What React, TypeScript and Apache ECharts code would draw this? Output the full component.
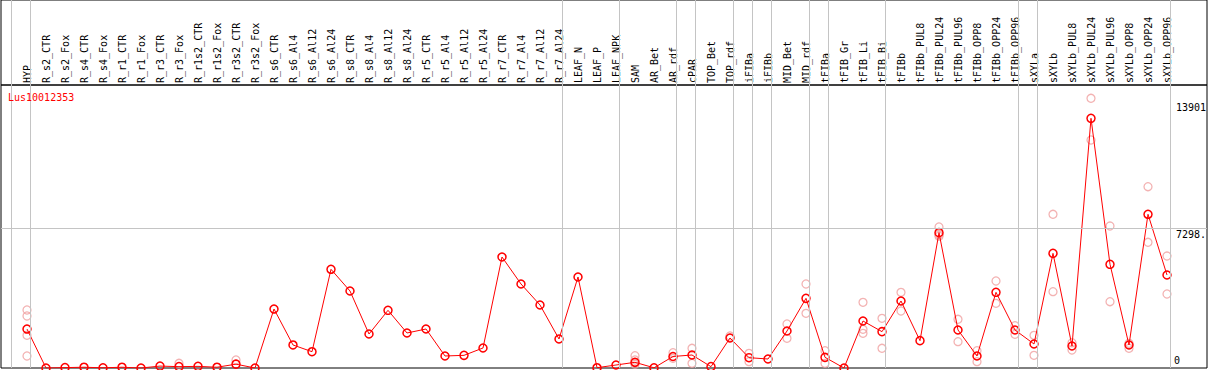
import React, { useEffect, useRef } from "react";
import * as echarts from "echarts";

const categories = [
  "HYP", "R_s2_CTR", "R_s2_Fox", "R_s4_CTR", "R_s4_Fox", "R_r1_CTR", "R_r1_Fox", "R_r3_CTR", "R_r3_Fox",
  "R_r1s2_CTR", "R_r1s2_Fox", "R_r3s2_CTR", "R_r3s2_Fox", "R_s6_CTR", "R_s6_Al4", "R_s6_Al12", "R_s6_Al24",
  "R_s8_CTR", "R_s8_Al4", "R_s8_Al12", "R_s8_Al24", "R_r5_CTR", "R_r5_Al4", "R_r5_Al12", "R_r5_Al24",
  "R_r7_CTR", "R_r7_Al4", "R_r7_Al12", "R_r7_Al24", "LEAF_N", "LEAF_P", "LEAF_NPK", "SAM", "AR_Bet", "AR_rdf",
  "cPAR", "TOP_Bet", "TOP_rdf", "iFIBa", "iFIBb", "MID_Bet", "MID_rdf", "tFIBa", "tFIB_Gr", "tFIB_Li", "tFIB_Bi",
  "tFIBb", "tFIBb_PUL8", "tFIBb_PUL24", "tFIBb_PUL96", "tFIBb_OPP8", "tFIBb_OPP24", "tFIBb_OPP96",
  "sXYLa", "sXYLb", "sXYLb_PUL8", "sXYLb_PUL24", "sXYLb_PUL96", "sXYLb_OPP8", "sXYLb_OPP24", "sXYLb_OPP96",
];

const means = [
  2030, 0, 20, 40, 10, 40, 0, 100, 70,
  85, 40, 200, 0, 3075, 1200, 850, 5145,
  4014, 1772, 3007, 1825, 2033, 626, 660, 1043,
  5786, 4379, 3284, 1512, 4744, 16, 156, 297, 10, 600,
  678, 70, 1564, 538, 469, 1929, 3632, 556, 0, 2450, 1894,
  3493, 1425, 7055, 1981, 626, 3945, 1981,
  1251, 5977, 1147, 13016, 5405, 1199, 8013, 4848,
];

const replicates: number[][] = [
  [3024, 2711, 1705, 626], [], [], [], [], [], [], [], [245],
  [], [], [417], [], [], [], [], [],
  [], [], [], [], [], [], [], [],
  [], [], [], [], [], [], [], [641, 417, 193], [], [798, 505],
  [1026, 245], [], [1668], [765, 330], [], [2294, 1546], [4379, 2850], [903, 243], [], [3423, 2016, 1807], [2589, 1026],
  [3945, 2971], [], [7350, 6870, 6950], [2539, 1373], [903, 330], [4535, 3371], [2207, 1755],
  [1703, 660], [8013, 3979], [1320, 938], [14059, 11886], [7402, 3456], [1286, 1026], [9451, 6553], [5838, 3858],
];

const groupEnds = [
  "HYP", "R_r7_Al24", "LEAF_NPK", "AR_rdf", "cPAR", "TOP_rdf", "iFIBa", "iFIBb",
  "MID_rdf", "tFIBa", "tFIB_Bi", "tFIBb_OPP96", "sXYLa", "sXYLb_OPP96",
];

const geneLabel = "Lus10012353";
const yTickValues = [0, 7298, 13901];
const yTickLabels = ["0", "7298.", "13901"];
const yMax = 14753;

const FONT = "DejaVu Sans Mono";

export default function App() {
  const ref = useRef<HTMLDivElement>(null);

  useEffect(() => {
    document.body.style.margin = "0";
    const chart = echarts.init(ref.current!, null, { renderer: "svg" });

    const step = 19;
    const xMin = -26 / step;
    const xMax = categories.length - 1 + 40 / step;
    const sepOffset = 3.5 / step;
    const separators = [-16 / step, ...groupEnds.map((n) => categories.indexOf(n) + sepOffset)];

    const repData: number[][] = [];
    replicates.forEach((arr, i) => arr.forEach((v) => repData.push([i, v])));

    const sepLines = separators.map((x) => ({ xAxis: x }));
    const sepStyle = { color: "#c4c4c4", width: 1, type: "solid" as const };

    const yMarkData = yTickValues.map((v, k) => ({
      yAxis: v,
      lineStyle: v === 7298 ? { ...sepStyle } : { color: "rgba(0,0,0,0)", width: 1, type: "solid" as const },
      label: {
        show: true,
        formatter: yTickLabels[k],
        position: v === 0 ? "insideEndTop" : "insideEndBottom",
        distance: v === 0 ? 3 : 1,
        padding: [0, (5 - yTickLabels[k].length) * 6, 0, 0],
        color: "#000",
        fontFamily: FONT,
        fontSize: 10,
      },
    }));

    chart.setOption({
      animation: false,
      backgroundColor: "#fff",
      title: {
        text: geneLabel,
        left: 8,
        top: 92,
        padding: 0,
        textStyle: { color: "#ff0000", fontFamily: FONT, fontSize: 10, fontWeight: "normal" },
      },
      grid: [
        { left: 1, right: 2, top: 85, bottom: 2, show: true, borderColor: "#000", borderWidth: 1, containLabel: false },
        { left: 1, right: 2, top: 0, height: 85, show: true, borderColor: "#000", borderWidth: 1, containLabel: false },
      ],
      xAxis: [
        {
          gridIndex: 0,
          type: "value",
          position: "top",
          min: xMin,
          max: xMax,
          axisLine: { show: false },
          axisTick: { show: false },
          splitLine: { show: false },
          axisLabel: {
            show: true,
            customValues: categories.map((_, i) => i),
            formatter: (v: number) => categories[Math.round(v)] ?? "",
            rotate: 90,
            margin: 2,
            padding: [0, 0, 4, 0],
            color: "#000",
            fontFamily: FONT,
            fontSize: 10,
            showMinLabel: true,
            showMaxLabel: true,
          },
        },
        {
          gridIndex: 1,
          type: "value",
          min: xMin,
          max: xMax,
          show: false,
        },
      ],
      yAxis: [
        { gridIndex: 0, type: "value", min: 0, max: yMax, show: false, splitLine: { show: false } },
        { gridIndex: 1, type: "value", min: 0, max: 1, show: false, splitLine: { show: false } },
      ],
      series: [
        {
          type: "line",
          xAxisIndex: 0,
          yAxisIndex: 0,
          data: [],
          silent: true,
          markLine: {
            silent: true,
            symbol: ["none", "none"],
            label: { show: false },
            lineStyle: sepStyle,
            data: [...sepLines, ...yMarkData],
          },
          z: 1,
        },
        {
          type: "line",
          xAxisIndex: 1,
          yAxisIndex: 1,
          data: [],
          silent: true,
          markLine: {
            silent: true,
            symbol: ["none", "none"],
            label: { show: false },
            lineStyle: sepStyle,
            data: sepLines,
          },
          z: 1,
        },
        {
          type: "scatter",
          xAxisIndex: 0,
          yAxisIndex: 0,
          data: repData,
          symbol: "circle",
          symbolSize: 8,
          itemStyle: { color: "rgba(0,0,0,0)", borderColor: "#f0a0a0", borderWidth: 1.3 },
          z: 3,
        },
        {
          type: "line",
          xAxisIndex: 0,
          yAxisIndex: 0,
          data: means.map((v, i) => [i, v]),
          symbol: "circle",
          symbolSize: 8,
          showAllSymbol: true,
          lineStyle: { color: "#ff0000", width: 1 },
          itemStyle: { color: "rgba(0,0,0,0)", borderColor: "#ff0000", borderWidth: 1.5 },
          z: 4,
        },
      ],
    });

    return () => chart.dispose();
  }, []);

  return <div ref={ref} style={{ width: 1209, height: 370 }} />;
}
